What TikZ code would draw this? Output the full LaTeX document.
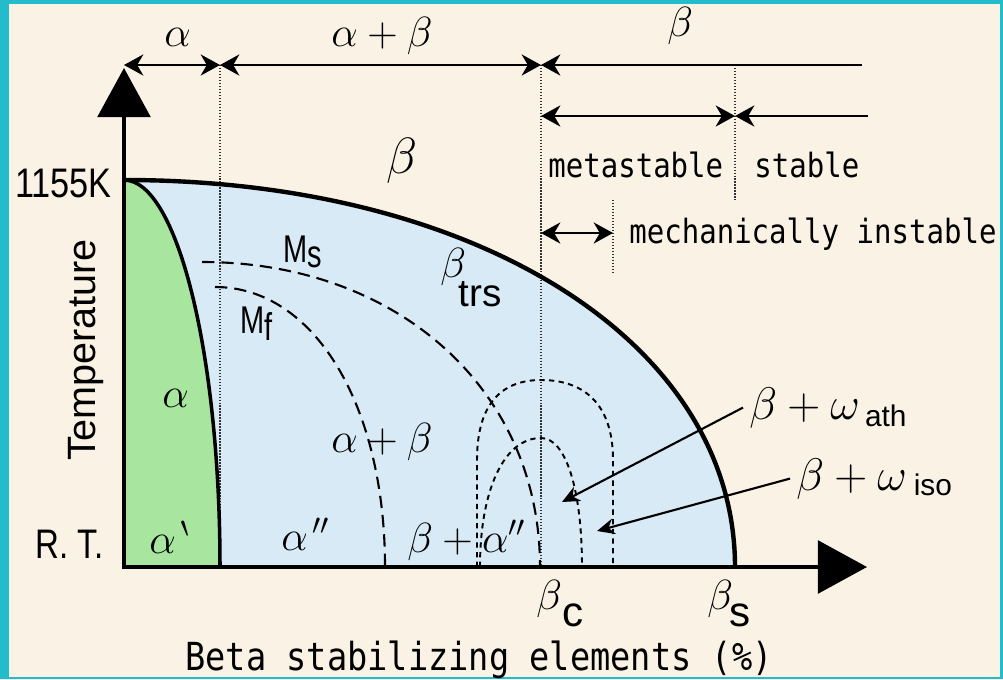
\RequirePackage{fix-cm}
\documentclass[tikz,border=0pt]{standalone}
\usepackage{amssymb}
\usepackage{graphicx}
\usepackage{fontspec}
\usetikzlibrary{arrows.meta}
\newfontfamily\labsans{Liberation Sans}
\newfontfamily\labmono{DejaVu Sans Mono}
\newcommand{\narrow}[2][0.87]{\scalebox{#1}[1]{#2}}
\definecolor{framecyan}{HTML}{22BCCB}
\definecolor{paper}{HTML}{FAF2E4}
\definecolor{betablue}{HTML}{D7EAF5}
\definecolor{alphagreen}{HTML}{A8E6A0}
\tikzset{
  axisline/.style={line width=2.3pt, -{Triangle[length=28pt,width=30pt]}},
  phaseline/.style={line width=2.5pt},
  dimline/.style={line width=1.4pt},
  guide/.style={line width=0.9pt, dash pattern=on 0.8pt off 0.9pt, black!80},
  mline/.style={line width=1.2pt, dash pattern=on 7pt off 4pt},
  omline/.style={line width=1.1pt, dash pattern=on 3pt off 2.5pt},
  ptr/.style={line width=1.2pt, -{Stealth[length=10pt,width=9pt]}},
  glab/.style={font=\fontsize{24}{28}\selectfont, inner sep=0pt},
  slab/.style={font=\labsans\fontsize{23.5}{28}\selectfont, inner sep=0pt},
  mlab/.style={font=\labmono\fontsize{19}{22}\selectfont, inner sep=0pt},
}
\begin{document}
\begin{tikzpicture}[x=0.02cm, y=-0.02cm, >={Stealth[length=11pt,width=12pt,inset=3.5pt]}]
  \useasboundingbox (0,0) rectangle (1003,679);
  % frame and paper
  \fill[framecyan] (0,0) rectangle (1003,679);
  \fill[paper] (9,4) rectangle (1000,677);

  % phase fields
  \fill[betablue] (124,180) .. controls (478,180) and (735,343) .. (735,567) -- (124,567) -- cycle;
  \fill[alphagreen] (124,180) .. controls (177,180) and (220,353) .. (220,567) -- (124,567) -- cycle;

  % composition guides
  \draw[guide] (220,65) -- (220,567);
  \draw[guide] (541,65) -- (541,567);
  \draw[guide] (735,65) -- (735,200);
  \draw[guide] (613,200) -- (613,272);

  % martensite start / finish
  \draw[mline] (202,262) .. controls (398,262) and (540,390) .. (540,567);
  \draw[mline] (215,287) .. controls (314,287) and (385,405) .. (385,567);

  % omega domes
  \draw[omline] (477,567) -- (477,460) .. controls (477,400) and (505,380) .. (541,380)
    .. controls (580,380) and (613,400) .. (613,460) -- (613,567);
  \draw[omline] (480,567) .. controls (480,490) and (504,438) .. (541,438)
    .. controls (566,438) and (582,490) .. (582,567);

  % beta transus and alpha boundary
  \draw[phaseline] (124,180) .. controls (478,180) and (735,343) .. (735,567);
  \draw[line width=2pt] (124,180) .. controls (177,180) and (220,353) .. (220,567);

  % axes
  \draw[axisline] (124,569) -- (124,68);
  \draw[axisline] (122,567) -- (867,567);

  % ranges along the top
  \draw[dimline, <->] (124,65) -- (220,65);
  \draw[dimline, <->] (220,65) -- (541,65);
  \draw[dimline, <-] (541,65) -- (862,65);
  \draw[dimline, <->] (541,116) -- (735,116);
  \draw[dimline, <-] (735,116) -- (868,116);
  \draw[dimline, <->] (541,233) -- (613,233);

  \node[glab, anchor=base west] (ltopa) at (164,47) {$\alpha$};
  \node[glab, anchor=base west] (ltopab) at (331,47) {$\alpha+\beta$};
  \node[glab, anchor=base west] (ltopb) at (667,37) {$\beta$};
  \node[mlab, anchor=base west] (lmeta) at (548,177) {\narrow{metastable}};
  \node[mlab, anchor=base west] (lstab) at (754,177) {\narrow{stable}};
  \node[mlab, anchor=base west] (lmech) at (629,243) {\narrow{mechanically instable}};

  % axis labels
  \node[slab, anchor=base east] (l1155) at (112,197) {\narrow[0.83]{1155K}};
  \node[slab, anchor=base east] (lrt) at (104,558) {\narrow[0.8]{R. T.}};
  \node[slab, font=\labsans\fontsize{22.5}{27}\selectfont, rotate=90, anchor=base] (ltemp) at (95,350) {Temperature};
  \node[mlab, font=\labmono\fontsize{22}{26}\selectfont, anchor=base] (lbeta) at (479,670) {\narrow{Beta stabilizing elements (\%)}};
  \node[glab, anchor=base west] (lbc) at (536,609) {$\beta$\raisebox{-10pt}{\labsans c}};
  \node[glab, anchor=base west] (lbs) at (707,609) {$\beta$\kern-2pt\raisebox{-10pt}{\labsans s}};

  % field labels
  \node[glab, font=\fontsize{29}{34}\selectfont, anchor=base west] (lbig) at (386,173) {$\beta$};
  \node[glab, anchor=base west] (ltrs) at (440,277) {$\beta$\kern-4pt\raisebox{-17pt}{\labsans\fontsize{22}{26}\selectfont trs}};
  \node[slab, font=\labsans\fontsize{22}{26}\selectfont, anchor=base west] (lms) at (283,262) {\narrow[0.75]{M\raisebox{-3.4pt}{s}}};
  \node[slab, font=\labsans\fontsize{22}{26}\selectfont, anchor=base west] (lmf) at (240,333) {\narrow[0.75]{M\raisebox{-4pt}{f}}};
  \node[glab, anchor=base west] (lalpha) at (162,407) {$\alpha$};
  \node[glab, anchor=base west] (lalphap) at (149,553) {$\alpha^{\,\backprime}$};
  \node[glab, anchor=base west] (lalphapp) at (281,550) {$\alpha^{\,\prime\prime}$};
  \node[glab, anchor=base west] (lab) at (331,452) {$\alpha+\beta$};
  \node[glab, anchor=base west] (lba) at (407,552) {$\beta+\alpha^{\prime\prime}$};

  % omega labels and pointers
  \node[glab, font=\fontsize{26}{30}\selectfont, inner xsep=3.4pt, anchor=base west] (ath) at (743,419)
    {$\beta+\omega$\kern3pt\raisebox{-4.5pt}{\labsans\fontsize{17}{20}\selectfont ath}};
  \node[glab, font=\fontsize{26}{30}\selectfont, inner xsep=3.4pt, anchor=base west] (iso) at (790,490)
    {$\beta+\omega$\kern4pt\raisebox{-3pt}{\labsans\fontsize{17}{20}\selectfont iso}};
  \coordinate (athtip) at (562,502);
  \coordinate (isotip) at (597,531);
  \draw[ptr] (ath.west) -- (athtip);
  \draw[ptr] (iso.west) -- (isotip);
\end{tikzpicture}
\end{document}
